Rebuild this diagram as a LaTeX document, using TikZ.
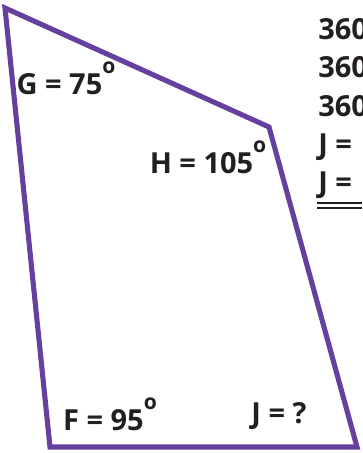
\documentclass[tikz,border=0pt]{standalone}
\usepackage{fontspec}
\setmainfont{Open Sans}
\usetikzlibrary{positioning,calc}
\definecolor{quadPurple}{RGB}{101, 64, 158}
\definecolor{labelInk}{RGB}{35, 31, 32}

\begin{document}
\begin{tikzpicture}[
  x=0.02cm, y=-0.02cm,
  node distance=7.3pt,
  side/.style={draw=quadPurple, line width=2.9pt, line join=miter},
  angle/.style={font=\fontsize{16.5}{19}\selectfont\bfseries, text=labelInk, inner sep=0pt},
  work/.style={angle, anchor=west, text height=12pt, text depth=2pt},
  total/.style={draw=labelInk, line width=1pt}
]
\useasboundingbox (0,0) rectangle (362,453);
\clip (0,0) rectangle (362,453);
% corners of the quadrilateral
\coordinate (g) at (5,8);
\coordinate (h) at (269,127);
\coordinate (j) at (357,447);
\coordinate (f) at (50,447);
\draw[side] (g) -- (h) -- (j) -- (f) -- cycle;
% angle labels
\node[angle] (gLabel) at (66,78) {G = 75\raisebox{1.3ex}{\fontsize{12}{13}\selectfont o}};
\node[angle] (hLabel) at (208,157) {H = 105\raisebox{1.3ex}{\fontsize{12}{13}\selectfont o}};
\node[angle] (fLabel) at (110,414) {F = 95\raisebox{1.3ex}{\fontsize{12}{13}\selectfont o}};
\node[angle] (jLabel) at (279,416) {J = ?};
% working on the right
\node[work] (rowA) at (318,31) {360};
\node[work, below=of rowA.south west, anchor=north west] (rowB) {360};
\node[work, below=of rowB.south west, anchor=north west] (rowC) {360};
\node[work, below=of rowC.south west, anchor=north west] (rowD) {J =};
\node[work, below=of rowD.south west, anchor=north west] (rowE) {J =};
\draw[total] (317,203) -- (362,203);
\draw[total] (317,208) -- (362,208);
\end{tikzpicture}
\end{document}
